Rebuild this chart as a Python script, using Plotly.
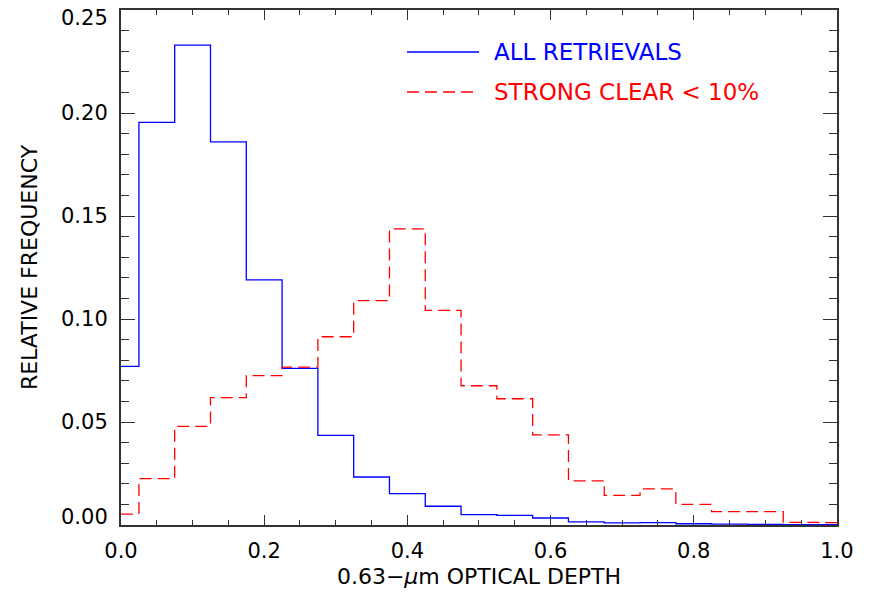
import plotly.graph_objects as go

# Bin centers (optical depth), bin width 0.05
bin_centers = [round(0.05 * i, 2) for i in range(21)]
all_retrievals = [0.077, 0.1955, 0.233, 0.186, 0.119, 0.076, 0.0435, 0.0233, 0.0152,
                  0.0091, 0.005, 0.0047, 0.0034, 0.0015, 0.001, 0.0012, 0.0006,
                  0.0004, 0.0003, 0.0002, 0.0002]
strong_clear = [0.0053, 0.0225, 0.0479, 0.0618, 0.0725, 0.0766, 0.0914, 0.1089, 0.1438,
                0.1042, 0.0676, 0.0613, 0.0438, 0.0214, 0.0144, 0.0175, 0.0100,
                0.0065, 0.0065, 0.0013, 0.0012]
x_ticks = [0.0, 0.2, 0.4, 0.6, 0.8, 1.0]
x_ticklabels = ["0.0", "0.2", "0.4", "0.6", "0.8", "1.0"]
y_ticks = [0.0, 0.05, 0.10, 0.15, 0.20, 0.25]
y_ticklabels = ["0.00", "0.05", "0.10", "0.15", "0.20", "0.25"]

FONT = "DejaVu Sans"
AX = "#333333"
X_RANGE = [0, 1.0001]
Y_RANGE = [0, 0.25003]
TICK_SIZE = 21
TITLE_SIZE = 22

fig = go.Figure()
fig.add_trace(go.Scatter(x=bin_centers, y=all_retrievals, mode="lines",
                         line=dict(shape="hvh", color="#0000ff", width=1.3),
                         name="ALL RETRIEVALS", showlegend=False))
fig.add_trace(go.Scatter(x=bin_centers, y=strong_clear, mode="lines",
                         line=dict(shape="hvh", color="#ff0000", width=1.3, dash="12px,6px"),
                         name="STRONG CLEAR < 10%", showlegend=False))

common = dict(showline=True, linecolor=AX, linewidth=1.5, showgrid=False, zeroline=False,
              ticks="inside", tickcolor=AX, automargin=False, ticklabeloverflow="allow")

fig.update_layout(
    width=869, height=592,
    margin=dict(l=121, r=32, t=10, b=67),
    plot_bgcolor="white", paper_bgcolor="white",
    font=dict(family=FONT, size=20, color="black"),
    xaxis=dict(range=X_RANGE, tickvals=x_ticks, ticktext=x_ticklabels, ticklen=10, tickwidth=1.3,
               ticklabelstandoff=6, tickfont=dict(size=TICK_SIZE),
               minor=dict(dtick=0.05, ticks="inside", ticklen=5, tickcolor=AX, tickwidth=1),
               title=dict(text="0.63\u2212<i>\u03bc</i>m OPTICAL DEPTH", standoff=7,
                          font=dict(size=TITLE_SIZE)),
               **common),
    yaxis=dict(range=Y_RANGE, tickvals=y_ticks, showticklabels=False, ticklen=14, tickwidth=1.3,
               minor=dict(dtick=0.01, ticks="inside", ticklen=8, tickcolor=AX, tickwidth=1),
               title=dict(text="RELATIVE FREQUENCY", standoff=76, font=dict(size=TITLE_SIZE)),
               **common),
    xaxis2=dict(range=X_RANGE, overlaying="x", side="top", anchor="y", showticklabels=False,
                tickvals=x_ticks, ticklen=10, tickwidth=1.3,
                minor=dict(dtick=0.05, ticks="inside", ticklen=5, tickcolor=AX, tickwidth=1),
                **common),
    yaxis2=dict(range=Y_RANGE, overlaying="y", side="right", anchor="x", showticklabels=False,
                tickvals=y_ticks, ticklen=14, tickwidth=1.3,
                minor=dict(dtick=0.01, ticks="inside", ticklen=8, tickcolor=AX, tickwidth=1),
                **common),
)
# dummy trace to activate secondary axes
fig.add_trace(go.Scatter(x=[None], y=[None], xaxis="x2", yaxis="y2", showlegend=False,
                         hoverinfo="skip"))

px_w = 869 - 121 - 32
px_h = 592 - 10 - 67
def xp(px):
    return (px - 121) / px_w
def yp(py):
    return (592 - 67 - py) / px_h

# Y tick labels (IDL style: end labels nudged inside the axis span)
for i, (val, lab) in enumerate(zip(y_ticks, y_ticklabels)):
    if i == 0:
        shift = 8
    elif i == len(y_ticks) - 1:
        shift = -8
    else:
        shift = 0
    fig.add_annotation(xref="paper", yref="y", x=xp(109), y=val, xanchor="right", yanchor="middle",
                       yshift=shift, text=lab, showarrow=False, borderpad=0,
                       font=dict(size=TICK_SIZE, family=FONT, color="black"))

# Manual legend
fig.add_shape(type="line", xref="paper", yref="paper", x0=xp(407), x1=xp(479), y0=yp(52), y1=yp(52),
              line=dict(color="#0000ff", width=1.3))
fig.add_shape(type="line", xref="paper", yref="paper", x0=xp(407), x1=xp(479), y0=yp(92), y1=yp(92),
              line=dict(color="#ff0000", width=1.3, dash="12px,6px"))
fig.add_annotation(xref="paper", yref="paper", x=xp(492), y=yp(52), xanchor="left", yanchor="middle",
                   text="ALL RETRIEVALS", showarrow=False, font=dict(color="#0000ff", size=23, family=FONT))
fig.add_annotation(xref="paper", yref="paper", x=xp(492), y=yp(92), xanchor="left", yanchor="middle",
                   text="STRONG CLEAR &lt; 10%", showarrow=False, font=dict(color="#ff0000", size=23, family=FONT))

fig.write_html("out.html")
